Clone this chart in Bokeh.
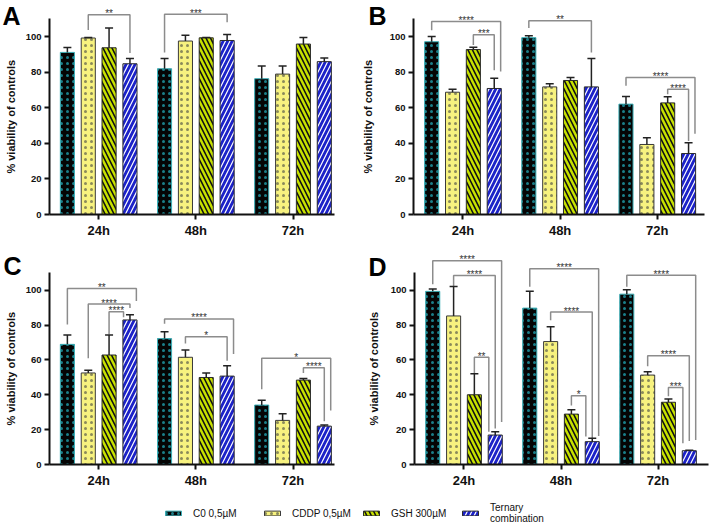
import math
from bokeh.plotting import figure
from bokeh.models import Range1d, FixedTicker, Legend, LegendItem, ColumnDataSource, Whisker, TeeHead
from bokeh.layouts import column, row
from bokeh.embed import file_html
from bokeh.resources import INLINE
from bokeh.core.properties import value

TIMES = ["24h", "48h", "72h"]
SERIES = ["C0 0,5µM", "CDDP 0,5µM", "GSH 300µM", "Ternary\ncombination"]
Y_TICKS = [0, 20, 40, 60, 80, 100]
Y_LABEL = "% viability of controls"

# Panel A
A_C0 = [91.2, 82.0, 76.4]
A_CDDP = [99.3, 97.6, 79.0]
A_GSH = [93.8, 99.4, 95.9]
A_TER = [84.8, 97.9, 86.0]
A_C0_ERR = [2.8, 5.8, 7.1]
A_CDDP_ERR = [0.3, 3.2, 4.5]
A_GSH_ERR = [11.1, 0.2, 3.7]
A_TER_ERR = [3.0, 3.4, 2.0]
# (time index, from series, to series, bracket height, left leg end, right leg end, label)
A_BRACKETS = [(0, 1, 3, 112.4, 103.8, 90.8, "**"),
              (1, 0, 3, 112.7, 91.2, 108.2, "***")]

# Panel B
B_C0 = [97.2, 99.5, 62.1]
B_CDDP = [68.8, 71.8, 39.4]
B_GSH = [92.8, 75.4, 62.8]
B_TER = [70.9, 71.8, 34.3]
B_C0_ERR = [3.0, 1.1, 4.3]
B_CDDP_ERR = [1.7, 1.7, 3.8]
B_GSH_ERR = [1.3, 1.7, 3.4]
B_TER_ERR = [5.8, 16.0, 6.0]
B_BRACKETS = [(0, 0, 3, 108.6, 103.7, 80.5, "****"),
              (0, 2, 3, 101.1, 95.3, 81.2, "***"),
              (1, 0, 3, 109.0, 104.9, 91.2, "**"),
              (2, 0, 3, 77.1, 72.4, 45.5, "****"),
              (2, 2, 3, 70.5, 67.7, 41.4, "****")]

# Panel C
C_C0 = [68.9, 72.2, 34.1]
C_CDDP = [52.5, 61.5, 25.3]
C_GSH = [62.8, 49.9, 48.4]
C_TER = [82.9, 50.7, 22.0]
C_C0_ERR = [5.4, 4.0, 2.8]
C_CDDP_ERR = [1.5, 4.2, 3.8]
C_GSH_ERR = [11.5, 2.6, 0.9]
C_TER_ERR = [3.0, 5.9, 0.7]
C_BRACKETS = [(0, 0, 3, 101.0, 80.3, 93.8, "**"),
              (0, 1, 3, 92.0, 61.0, 89.7, "****"),
              (0, 2, 3, 87.6, 74.5, 84.5, "****"),
              (1, 0, 3, 83.5, 80.7, 63.4, "****"),
              (1, 1, 3, 73.2, 69.4, 59.5, "*"),
              (2, 0, 3, 61.0, 43.1, 31.0, "*"),
              (2, 2, 3, 55.5, 52.5, 24.8, "****")]

# Panel D
D_C0 = [99.3, 89.7, 97.7]
D_CDDP = [85.2, 70.5, 51.3]
D_GSH = [40.0, 28.9, 35.7]
D_TER = [16.9, 13.1, 7.9]
D_C0_ERR = [1.3, 9.6, 2.5]
D_CDDP_ERR = [16.9, 8.5, 1.9]
D_GSH_ERR = [12.1, 2.5, 1.9]
D_TER_ERR = [1.9, 1.9, 0.3]
D_BRACKETS = [(0, 0, 3, 116.9, 103.4, 24.4, "****"),
              (0, 1, 3, 108.4, 102.1, 20.7, "****"),
              (0, 2, 3, 61.5, 52.2, 18.8, "**"),
              (1, 0, 3, 112.2, 101.9, 16.4, "****"),
              (1, 1, 3, 87.4, 82.7, 15.0, "****"),
              (1, 2, 3, 39.5, 33.8, 16.0, "*"),
              (2, 0, 3, 108.5, 101.9, 14.1, "****"),
              (2, 1, 3, 62.4, 56.4, 13.5, "****"),
              (2, 2, 3, 44.2, 39.1, 12.2, "***")]

FONT = "Liberation Sans"
OFFSETS = [-0.322, -0.107, 0.107, 0.322]
BAR_W = 0.145
LEG_SHIFT = 0.066

STYLE = [
    dict(fill_color="#050505", line_color="#3cb0b8", line_width=1,
         hatch_pattern="dot", hatch_color="#1a7f8a", hatch_scale=6, hatch_weight=0.5),
    dict(fill_color="#f7f27f", line_color="#3a3a3a", line_width=1,
         hatch_pattern="dot", hatch_color="#8a8a5a", hatch_scale=6, hatch_weight=0.7),
    dict(fill_color="#c8e200", line_color="#2a2a2a", line_width=1,
         hatch_pattern="left_diagonal_line", hatch_color="#111111", hatch_scale=9, hatch_weight=1.6),
    dict(fill_color="#1c22c8", line_color="#2a2a2a", line_width=1,
         hatch_pattern="right_diagonal_line", hatch_color="#ffffff", hatch_scale=9, hatch_weight=1.2),
]


def make_strip(letter, width, height, bb, yend, letter_x, label_x, letter_dy):
    s = figure(width=width, height=height, output_backend="svg", toolbar_location=None,
               x_range=Range1d(0, width), y_range=Range1d(0, yend),
               x_axis_type=None, y_axis_type=None,
               min_border_left=0, min_border_right=0, min_border_top=0, min_border_bottom=bb)
    s.outline_line_color = None
    s.grid.visible = False
    s.text(x=[letter_x], y=[yend], text=[letter], text_baseline="top", text_align="left",
           y_offset=letter_dy, text_font=value(FONT), text_font_style="bold",
           text_font_size="25px", text_color="#000000")
    s.text(x=[label_x], y=[55], text=[Y_LABEL], angle=math.pi / 2, text_align="center",
           text_baseline="middle", text_font=value(FONT), text_font_style="bold",
           text_font_size="11px", text_color="#111111")
    return s


def make_panel(means, errs, brackets, width, height, bl, br, bb, xr, yend):
    p = figure(width=width, height=height, output_backend="svg", toolbar_location=None,
               x_range=Range1d(*xr), y_range=Range1d(0, yend),
               min_border_left=bl, min_border_right=br, min_border_top=0,
               min_border_bottom=bb)
    p.outline_line_color = None
    p.grid.visible = False

    for i in range(4):
        xs = [g + OFFSETS[i] for g in range(3)]
        p.vbar(x=xs, top=means[i], bottom=0, width=BAR_W, **STYLE[i])

    wx, wl, wu = [], [], []
    for i in range(4):
        for g in range(3):
            wx.append(g + OFFSETS[i])
            wl.append(means[i][g])
            wu.append(means[i][g] + errs[i][g])
    src = ColumnDataSource(dict(x=wx, lower=wl, upper=wu))
    w = Whisker(base="x", lower="lower", upper="upper", source=src, dimension="height",
                line_color="#222222", line_width=1.5, level="overlay",
                upper_head=TeeHead(size=8, line_color="#222222", line_width=1.5),
                lower_head=None)
    p.add_layout(w)

    groups = {}
    for k, b in enumerate(brackets):
        groups.setdefault((b[0], b[2]), []).append(k)
    shift = {}
    for key, ks in groups.items():
        ks = sorted(ks, key=lambda k: brackets[k][3])
        n = len(ks)
        for r, k in enumerate(ks):
            shift[k] = r - (n - 1) // 2
    bxs, bys, tx, ty, tt = [], [], [], [], []
    for k, (g, i, j, top, le, re, lab) in enumerate(brackets):
        xl = g + OFFSETS[i]
        xrr = g + OFFSETS[j] + shift[k] * LEG_SHIFT
        bxs.append([xl, xl, xrr, xrr])
        bys.append([le, top, top, re])
        tx.append((xl + xrr) / 2)
        ty.append(top)
        tt.append(lab)
    p.multi_line(bxs, bys, line_color="#8c8c8c", line_width=1.5)
    p.text(x=tx, y=ty, text=tt, text_align="center", text_baseline="alphabetic",
           y_offset=-1, text_font=value(FONT), text_font_size="10px", text_color="#333333")

    p.yaxis.bounds = (0, 110)
    p.yaxis.ticker = FixedTicker(ticks=Y_TICKS)
    p.xaxis.ticker = FixedTicker(ticks=[0, 1, 2])
    p.xaxis.major_label_overrides = {0: TIMES[0], 1: TIMES[1], 2: TIMES[2]}
    p.xaxis.major_label_text_font_size = "13px"
    p.yaxis.major_label_text_font_size = "9.5px"
    for ax in (p.xaxis, p.yaxis):
        ax.axis_line_width = 2
        ax.axis_line_color = "#111111"
        ax.major_tick_line_width = 2
        ax.major_tick_line_color = "#111111"
        ax.major_tick_out = 5
        ax.major_tick_in = 0
        ax.minor_tick_line_color = None
        ax.major_label_text_font = FONT
        ax.major_label_text_font_style = "bold"
        ax.major_label_text_color = "#111111"
        ax.major_label_standoff = 3
    return p


sA = make_strip("A", 22, 245, 31, 120.4, 2, 10, 1)
pA = make_panel([A_C0, A_CDDP, A_GSH, A_TER], [A_C0_ERR, A_CDDP_ERR, A_GSH_ERR, A_TER_ERR],
                A_BRACKETS, 333, 245, 24, 21, 31, (-0.506, 2.427), 120.4)
sB = make_strip("B", 31, 245, 31, 120.4, 13, 12, 1)
pB = make_panel([B_C0, B_CDDP, B_GSH, B_TER], [B_C0_ERR, B_CDDP_ERR, B_GSH_ERR, B_TER_ERR],
                B_BRACKETS, 323, 245, 24, 5, 31, (-0.509, 2.486), 120.4)
sC = make_strip("C", 22, 245, 22, 125.6, 3, 10, 6)
pC = make_panel([C_C0, C_CDDP, C_GSH, C_TER], [C_C0_ERR, C_CDDP_ERR, C_GSH_ERR, C_TER_ERR],
                C_BRACKETS, 333, 245, 24, 21, 22, (-0.506, 2.427), 125.6)
sD = make_strip("D", 32, 245, 22, 125.6, 13, 18, 7)
pD = make_panel([D_C0, D_CDDP, D_GSH, D_TER], [D_C0_ERR, D_CDDP_ERR, D_GSH_ERR, D_TER_ERR],
                D_BRACKETS, 322, 245, 24, 1, 22, (-0.51, 2.52), 125.6)

# legend strip: zero-size bars only supply the legend swatches
pl = figure(width=709, height=36, output_backend="svg", toolbar_location=None,
            x_range=Range1d(0, 1), y_range=Range1d(0, 1), x_axis_type=None, y_axis_type=None,
            min_border=0)
pl.outline_line_color = None
pl.grid.visible = False
rs = [pl.vbar(x=[0.5], bottom=[0.5], top=[0.5], width=0, **STYLE[i]) for i in range(4)]
leg = Legend(items=[LegendItem(label=SERIES[i], renderers=[rs[i]]) for i in range(4)],
             orientation="horizontal", location=(163, 2), padding=0, margin=0, spacing=0,
             glyph_width=20, glyph_height=6, label_standoff=10, label_width=69,
             label_text_font=FONT, label_text_font_size="10px", label_text_color="#111111",
             border_line_color=None, background_fill_alpha=0)
pl.add_layout(leg, "center")

layout = column(row(sA, pA, sB, pB), row(sC, pC, sD, pD), pl)
open("out.html", "w").write(file_html(layout, INLINE))
